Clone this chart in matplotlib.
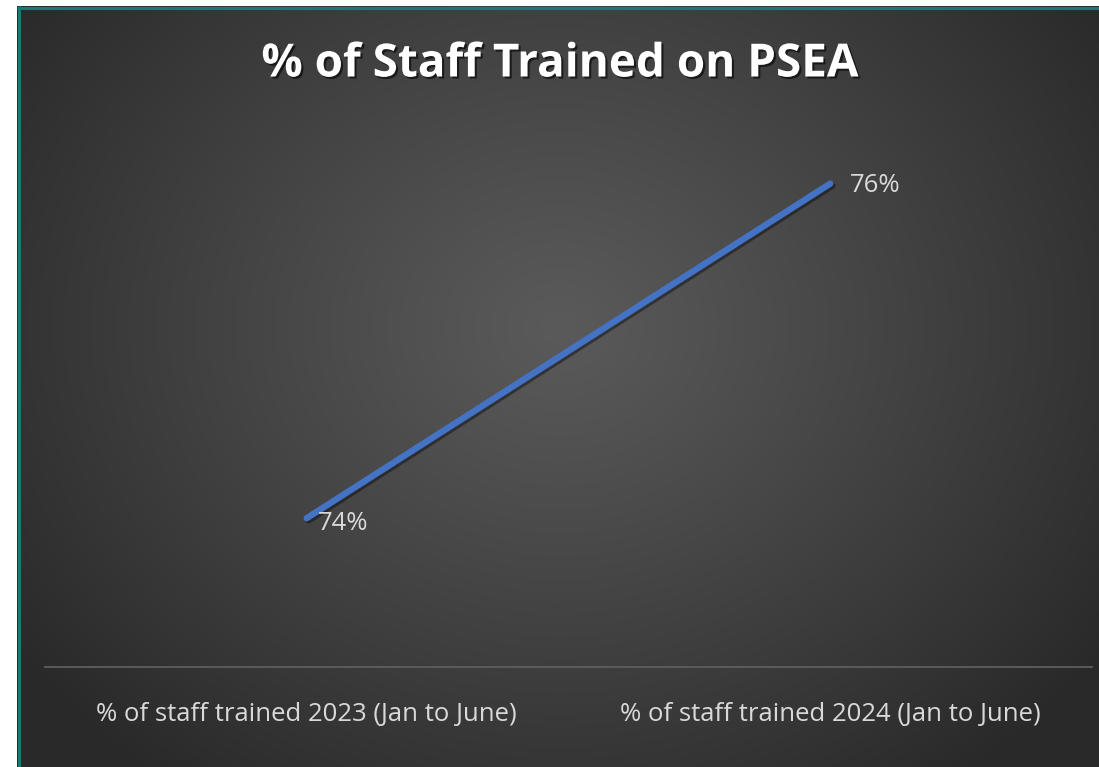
import numpy as np
import matplotlib.pyplot as plt
import matplotlib.patheffects as pe

categories = ['% of staff trained 2023 (Jan to June)', '% of staff trained 2024 (Jan to June)']
values = [74, 76]
labels = ['74%', '76%']
title = '% of Staff Trained on PSEA'

W, H = 1099, 767
fig = plt.figure(figsize=(W / 100, H / 100), dpi=100, facecolor='white')

# dark panel with radial gradient, teal edge on left/top
x0, y0 = 17 / W, 0
bg = fig.add_axes([x0, y0, 1 - x0, 1 - 6 / H])
bg.set_axis_off()
gw, gh = 400, 280
yy, xx = np.mgrid[0:gh, 0:gw]
cx, cy = 0.5 * gw, 0.42 * gh
r = np.sqrt(((xx - cx) / (0.62 * gw)) ** 2 + ((yy - cy) / (0.75 * gh)) ** 2)
r = np.clip(r, 0, 1)
lev = 0x5a - (0x5a - 0x29) * r ** 1.1
img = np.dstack([lev, lev, lev]) / 255
bg.imshow(img, extent=[0, 1, 0, 1], aspect='auto', origin='upper')
bg.set_xlim(0, 1)
bg.set_ylim(0, 1)
bg.plot([0.002, 0.002], [0, 1], color='#177a73', lw=2.2, solid_capstyle='butt')
bg.plot([0, 1], [0.998, 0.998], color='#177a73', lw=2.2, solid_capstyle='butt')

# plot area
px0, px1 = 45, 1092
py_top, py_bot = 100, 667
ax = fig.add_axes([px0 / W, 1 - py_bot / H, (px1 - px0) / W, (py_bot - py_top) / H])
ax.set_facecolor('none')
xs = np.arange(len(values))
ax.plot(xs, values, color='#4472C4', lw=4.6, solid_capstyle='round',
        path_effects=[pe.SimpleLineShadow(offset=(1.5, -1.5), shadow_color='black', alpha=0.4),
                      pe.Normal()])
ax.set_xlim(-0.5, 1.5)
ax.set_ylim(73.11, 76.5)
offsets = [(8, -4), (14, -1)]
for x, v, t, off in zip(xs, values, labels, offsets):
    ax.annotate(t, (x, v), xytext=off, textcoords='offset points',
                ha='left', va='center', color='#d9d9d9', fontsize=18.5, family='Open Sans')
for s in ['top', 'right', 'left']:
    ax.spines[s].set_visible(False)
ax.spines['bottom'].set_color('#5e5e5e')
ax.spines['bottom'].set_linewidth(1.3)
ax.set_yticks([])
ax.set_xticks(xs)
ax.set_xticklabels(categories, color='#d9d9d9', fontsize=18.5, family='Open Sans')
ax.tick_params(axis='x', length=0, pad=25)

fig.text(560 / W, 1 - 64 / H, title, ha='center', va='center', color='white',
         fontsize=33, fontweight='bold', family='Open Sans',
         path_effects=[pe.withSimplePatchShadow(offset=(1.5, -1.5), shadow_rgbFace='black', alpha=0.6)])

fig.savefig('out.png', dpi=100, facecolor='white')
